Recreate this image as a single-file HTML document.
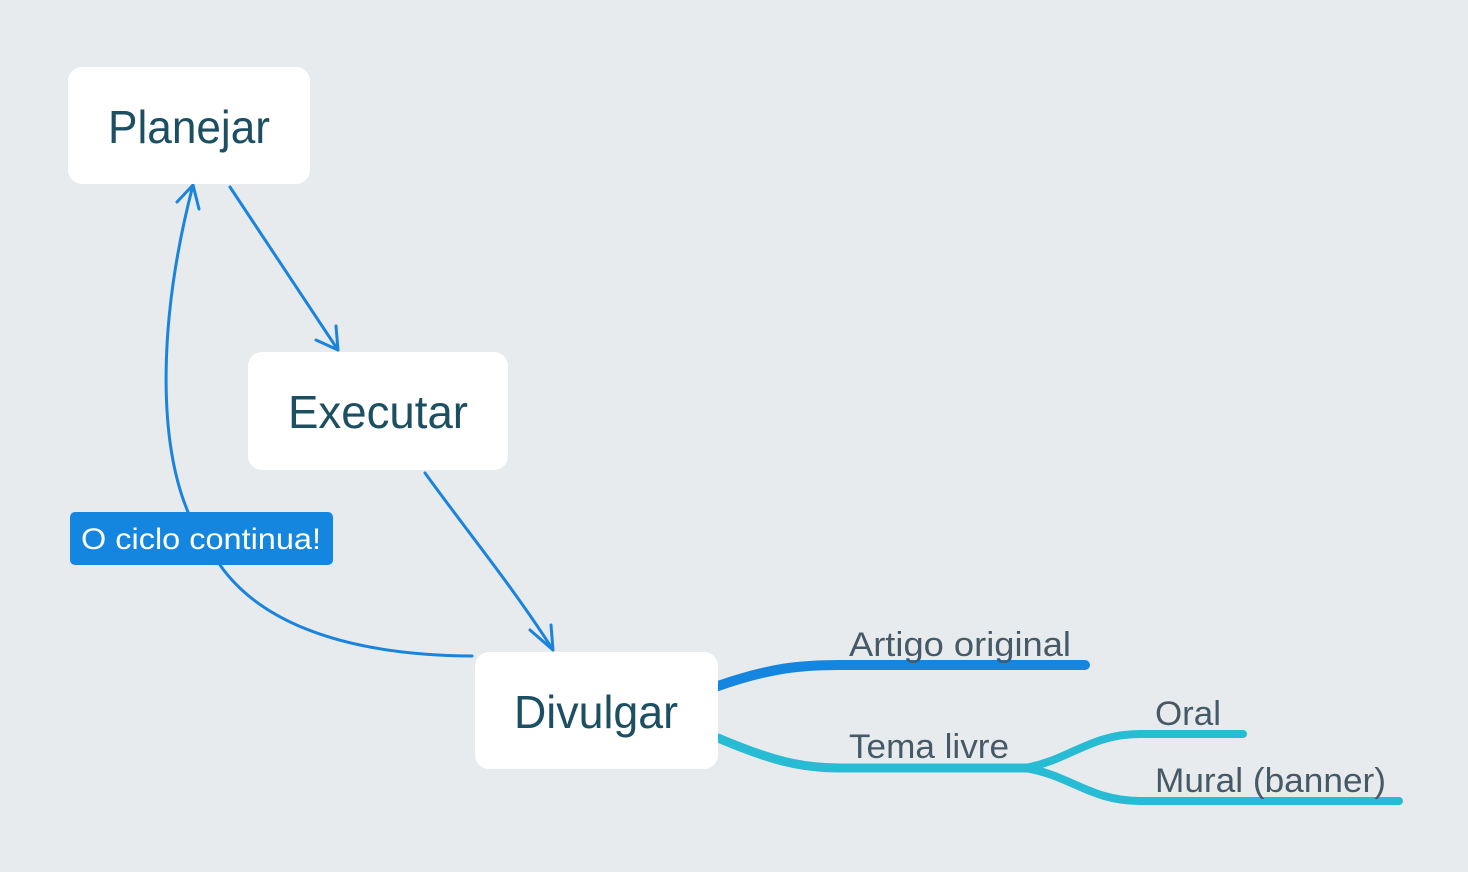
<!DOCTYPE html>
<html><head><meta charset="utf-8"><style>
html,body{margin:0;padding:0;background:#e8ebee;}
svg{display:block;font-family:"Liberation Sans",sans-serif;}
</style></head><body>
<svg width="1468" height="872" viewBox="0 0 1468 872" xmlns="http://www.w3.org/2000/svg">
<rect width="1468" height="872" fill="#e8ebee"/>
<g fill="none" stroke="#1a84dc" stroke-width="3" stroke-linecap="round" stroke-linejoin="round">
<path d="M230,187 L338,350"/>
<path d="M316,340 L338,350 L336,326"/>
<path d="M425,473 C470,535 515,590 553,650"/>
<path d="M530,630 L553,650 L551,625"/>
<path d="M472,656 C330,655 255,615 220,565"/>
<path d="M188,512 C158,440 158,320 193,185"/>
<path d="M177,202 L193,185 L199,209"/>
</g>
<path d="M718,686 C770,668 800,665 840,665 L1085,665" fill="none" stroke="#1586df" stroke-width="10" stroke-linecap="round"/>
<path d="M718,738 C770,760 800,768 840,768 L1025,768" fill="none" stroke="#28bcd4" stroke-width="9" stroke-linecap="round"/>
<path d="M1025,768 C1070,760 1090,734 1140,734 L1243,734" fill="none" stroke="#28bcd4" stroke-width="8" stroke-linecap="round"/>
<path d="M1025,768 C1070,775 1090,801 1140,801 L1399,801" fill="none" stroke="#28bcd4" stroke-width="8" stroke-linecap="round"/>
<rect x="68" y="67" width="242" height="117" rx="14" fill="#fff"/>
<rect x="248" y="352" width="260" height="118" rx="14" fill="#fff"/>
<rect x="475" y="652" width="243" height="117" rx="14" fill="#fff"/>
<g fill="#1d4f62" font-size="46">
<text x="108" y="143" textLength="162" lengthAdjust="spacingAndGlyphs">Planejar</text>
<text x="288" y="428" textLength="180" lengthAdjust="spacingAndGlyphs">Executar</text>
<text x="514" y="728" textLength="164" lengthAdjust="spacingAndGlyphs">Divulgar</text>
</g>
<rect x="70" y="512" width="263" height="53" rx="5" fill="#1586df"/>
<text x="81" y="549" fill="#fff" font-size="30" textLength="240" lengthAdjust="spacingAndGlyphs">O ciclo continua!</text>
<g fill="#465966" font-size="34">
<text x="849" y="656" textLength="222" lengthAdjust="spacingAndGlyphs">Artigo original</text>
<text x="849" y="758" textLength="160" lengthAdjust="spacingAndGlyphs">Tema livre</text>
<text x="1155" y="725" textLength="66" lengthAdjust="spacingAndGlyphs">Oral</text>
<text x="1155" y="792" textLength="231" lengthAdjust="spacingAndGlyphs">Mural (banner)</text>
</g>
</svg>
</body></html>
